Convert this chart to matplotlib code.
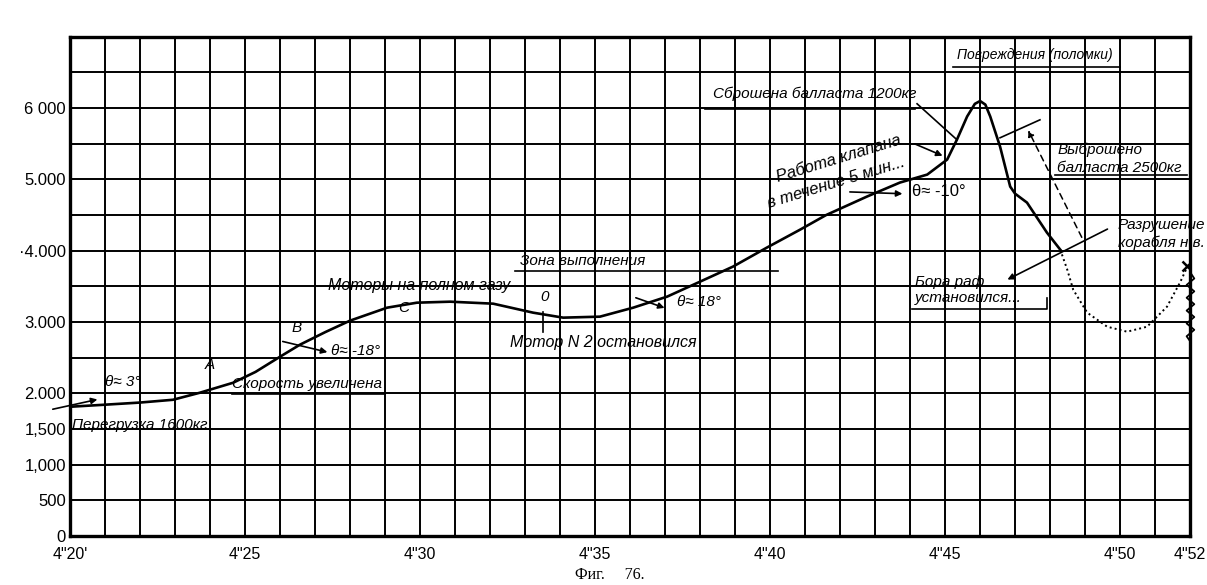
import matplotlib
matplotlib.use("Agg")
import matplotlib.pyplot as plt
from matplotlib.ticker import MultipleLocator, FixedLocator

plt.rcParams['font.family'] = ['Liberation Sans', 'DejaVu Sans']

# Flight record (minutes after 4h, altitude m)
t_solid = [20.0, 21.0, 22.0, 22.94, 23.71, 24.66, 25.3, 26.0, 26.57, 27.3, 28.0,
           29.06, 29.91, 30.86, 32.09, 33.23, 34.09, 35.14, 36.09, 37.06, 38.0,
           38.94, 39.91, 40.86, 41.6, 42.77, 43.71, 44.49, 45.06, 45.34, 45.63,
           45.85, 46.0, 46.15, 46.29, 46.57, 46.86, 47.0, 47.34, 47.91, 48.29]
alt_solid = [1811, 1840, 1870, 1909, 2008, 2148, 2300, 2513, 2682, 2860, 3019,
             3201, 3271, 3285, 3257, 3131, 3061, 3075, 3201, 3356, 3566,
             3777, 4044, 4296, 4500, 4760, 4956, 5068, 5279, 5560, 5883,
             6060, 6100, 6050, 5883, 5462, 4900, 4800, 4675, 4254, 4015]

# broken-off part after the structure failed (dotted)
t_dot = [48.29, 48.49, 48.66, 49.06, 49.63, 50.2, 50.77, 51.34, 51.71, 51.91]
alt_dot = [4015, 3735, 3454, 3131, 2934, 2864, 2934, 3215, 3552, 3763]

# crash mark at the right edge
t_crash = [52.0, 52.12, 51.9, 52.12, 51.9, 52.12, 51.9, 52.12, 51.9, 52.12, 51.9, 52.0]
alt_crash = [3700, 3610, 3520, 3430, 3340, 3250, 3160, 3070, 2980, 2890, 2800, 2730]

x_ticks = [20, 25, 30, 35, 40, 45, 50, 52]
x_labels = ['4"20\'', '4"25', '4"30', '4"35', '4"40', '4"45', '4"50', '4"52']
y_ticks = [0, 500, 1000, 1500, 2000, 3000, 4000, 5000, 6000]
y_labels = ['0', '500', '1,000', '1,500', '2.000', '3.000', '\u00b74.000', '5.000', '6 000']

fig = plt.figure(figsize=(12.07, 5.85), dpi=100)
ax = fig.add_axes([0.058, 0.084, 0.928, 0.853])
ax.set_xlim(20, 52)
ax.set_ylim(0, 7000)

ax.xaxis.set_major_locator(FixedLocator(x_ticks))
ax.xaxis.set_minor_locator(MultipleLocator(1))
ax.yaxis.set_major_locator(FixedLocator(y_ticks))
ax.yaxis.set_minor_locator(MultipleLocator(500))
ax.set_xticklabels(x_labels, fontsize=11.5)
ax.set_yticklabels(y_labels, fontsize=12)
ax.tick_params(which='both', length=0)
ax.tick_params(axis='x', pad=8)
ax.tick_params(axis='y', pad=3)
ax.grid(which='both', color='black', linewidth=1.4)
ax.set_axisbelow(True)
for s in ax.spines.values():
    s.set_linewidth(2.4)

ax.plot(t_solid, alt_solid, color='black', linewidth=1.9, zorder=3)
ax.plot(t_dot, alt_dot, color='black', linewidth=1.4, linestyle=(0, (1, 1.6)), zorder=3)
ax.plot(t_crash, alt_crash, color='black', linewidth=1.3, clip_on=False, zorder=3)
ax.plot([51.91], [3790], marker='x', color='black', markersize=7, mew=1.8, zorder=3)

note = dict(fontsize=11, style='italic', color='black', zorder=4)
arrow = dict(arrowstyle='-|>', color='black', lw=1.2, mutation_scale=9)
line = dict(color='black', lw=1.2, zorder=4)

# left part
ax.annotate('', xy=(20.86, 1922), xytext=(19.43, 1768), arrowprops=arrow,
            annotation_clip=False)
ax.text(21.0, 2105, '\u03b8\u2248 3\u00b0', **note)
ax.text(20.06, 1557, 'Перегрузка 1600кг', va='center', **note)
ax.text(23.86, 2300, 'A', va='bottom', **note)
ax.text(24.63, 2030, 'Скорость увеличена', va='bottom', **note)
ax.plot([24.63, 29.0], [1985, 1985], **line)

ax.text(26.34, 2820, 'B', va='bottom', **note)
ax.annotate('', xy=(27.43, 2568), xytext=(26.0, 2736), arrowprops=arrow)
ax.text(27.45, 2600, '\u03b8\u2248 -18\u00b0', va='center', **note)
ax.text(29.37, 3100, 'C', va='bottom', **note)
ax.text(27.37, 3400, 'Моторы на полном газу', va='bottom', fontsize=11.5,
        style='italic', color='black', zorder=4)

# middle
ax.text(33.45, 3250, '0', va='bottom', **note)
ax.plot([33.51, 33.51], [3143, 2862], **line)
ax.text(32.57, 2708, 'Мотор N 2 остановился', va='center', fontsize=11.5,
        style='italic', color='black', zorder=4)
ax.text(32.86, 3760, 'Зона выполнения', va='bottom', **note)
ax.plot([32.71, 40.23], [3718, 3718], **line)
ax.annotate('', xy=(37.06, 3185), xytext=(36.09, 3353), arrowprops=arrow)
ax.text(37.34, 3283, '\u03b8\u2248 18\u00b0', va='center', **note)

# right part
ax.text(41.95, 5290, 'Работа клапана', rotation=17, ha='center', va='center',
        rotation_mode='anchor', fontsize=12, style='italic', color='black', zorder=4)
ax.text(41.9, 4960, 'в течение 5 мин...', rotation=17, ha='center', va='center',
        rotation_mode='anchor', fontsize=12, style='italic', color='black', zorder=4)
ax.annotate('', xy=(45.0, 5317), xytext=(44.06, 5514), arrowprops=arrow)
ax.annotate('', xy=(43.86, 4798), xytext=(42.2, 4826), arrowprops=arrow)
ax.text(44.06, 4826, '\u03b8\u2248 -10\u00b0', va='center', fontsize=12, color='black')

ax.text(38.37, 6103, 'Сброшена балласта 1200кг', va='bottom', **note)
ax.plot([38.14, 44.14], [5991, 5991], **line)
ax.plot([44.2, 45.34], [6061, 5556], **line)

ax.text(45.34, 6650, 'Повреждения (поломки)', va='bottom', fontsize=10,
        style='italic', color='black')
ax.plot([45.23, 50.0], [6580, 6580], **line)

ax.plot([46.57, 47.71], [5584, 5836], **line)
ax.annotate('', xy=(47.34, 5724), xytext=(48.94, 4153),
            arrowprops=dict(arrowstyle='-|>', color='black', lw=1.1,
                            linestyle=(0, (4, 3)), mutation_scale=9))
ax.text(48.2, 5416, 'Выброшено', va='center', **note)
ax.text(48.2, 5163, 'балласта 2500кг', va='center', **note)
ax.plot([48.14, 51.91], [5065, 5065], **line)

ax.text(49.94, 4363, 'Разрушение', va='center', clip_on=False, **note)
ax.text(49.94, 4111, 'корабля н.в.', va='center', clip_on=False, **note)
ax.annotate('', xy=(46.71, 3578), xytext=(49.71, 4321), arrowprops=arrow)

ax.text(44.14, 3560, 'Бора раф', va='center', **note)
ax.text(44.14, 3339, 'установился...', va='center', **note)
ax.plot([44.06, 47.91, 47.91], [3185, 3185, 3339], **line)

fig.text(0.505, 0.017, 'Фиг.     76.', ha='center', va='center', fontsize=11.5,
         family=['Liberation Serif', 'DejaVu Serif'])

fig.savefig('out.png', dpi=100)
